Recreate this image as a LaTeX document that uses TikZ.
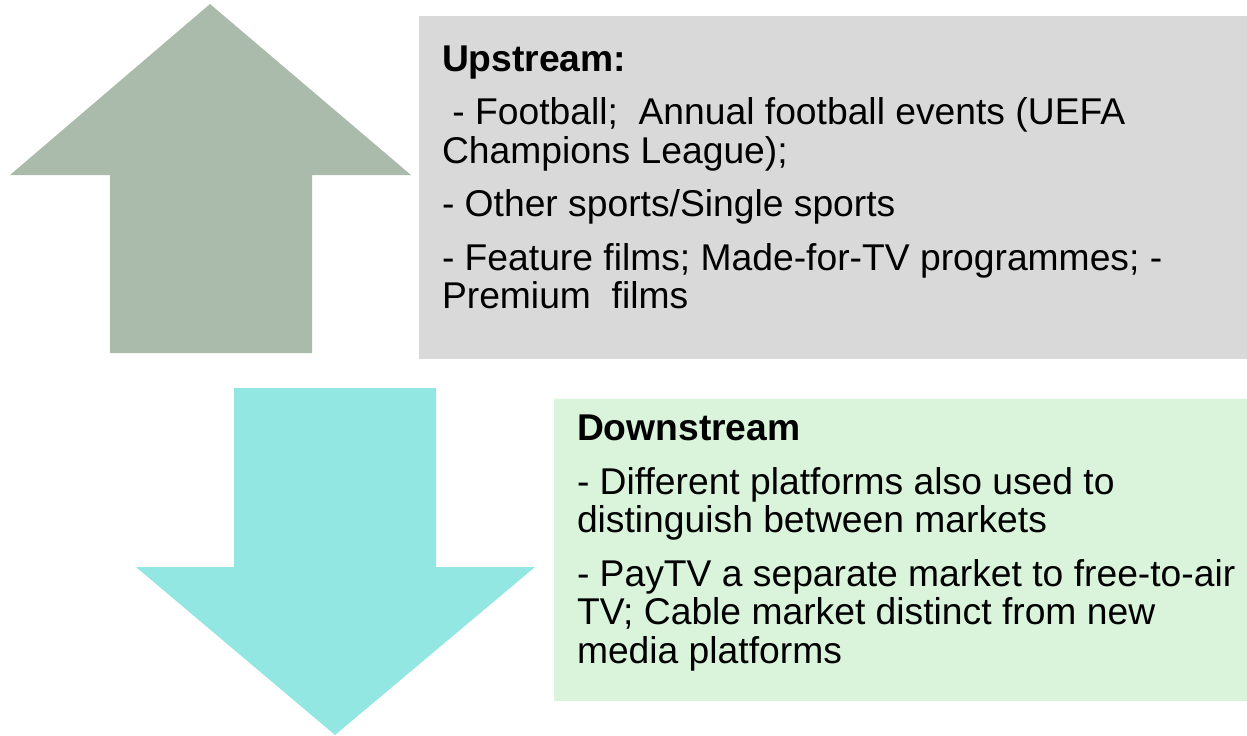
\documentclass[tikz,border=0pt]{standalone}
\usepackage{fontspec}
\setmainfont{Liberation Sans}
\usetikzlibrary{positioning}
\definecolor{upgreen}{RGB}{170,186,171}
\definecolor{downcyan}{RGB}{147,231,227}
\definecolor{boxgray}{RGB}{217,217,217}
\definecolor{boxgreen}{RGB}{218,244,220}

\begin{document}
\begin{tikzpicture}[x=0.02cm,y=-0.02cm]
\tikzstyle{every node}=[inner sep=0pt, outer sep=0pt]
\tikzstyle{txt}=[anchor=north west, align=left, font=\fontsize{21.2pt}{21.9pt}\selectfont]
\useasboundingbox (0,0) rectangle (1247,735);
\fill[upgreen] (210,4) -- (411,175) -- (312,175) -- (312,353) -- (110,353) -- (110,175) -- (10,175) -- cycle;
\fill[downcyan] (234,388) -- (436,388) -- (436,567) -- (535,567) -- (335,735) -- (136,567) -- (234,567) -- cycle;
\fill[boxgray] (419,16) rectangle (1247,359);
\fill[boxgreen] (554,399) rectangle (1247,701);
\node (uptext) [txt] at (442,45.5) {\textbf{Upstream:}\\[0.3cm]
\ - Football; \ Annual football events (UEFA\\
Champions League);\\[0.3cm]
- Other sports/Single sports\\[0.3cm]
- Feature films; Made-for-TV programmes; -\\
Premium \ films};
\node (downtext) [txt] at (577,415) {\textbf{Downstream}\\[0.3cm]
- Different platforms also used to\\
distinguish between markets\\[0.3cm]
- PayTV a separate market to free-to-air\\
TV; Cable market distinct from new\\
media platforms};
\end{tikzpicture}
\end{document}
